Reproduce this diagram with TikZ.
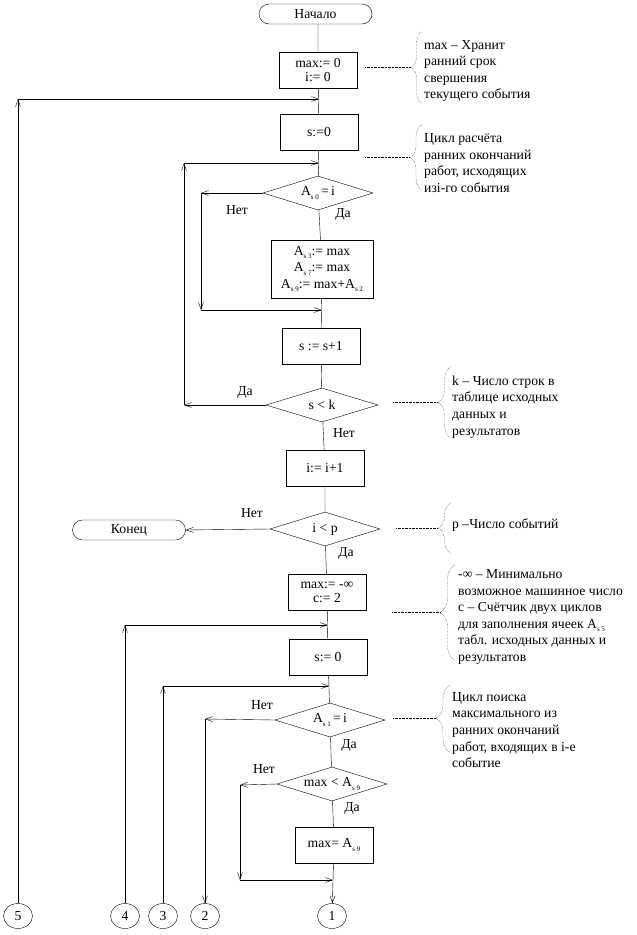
\documentclass[tikz,border=0pt]{standalone}
\usepackage{fontspec}
\setmainfont{Liberation Serif}
\usetikzlibrary{shapes.geometric,shapes.misc,arrows.meta,decorations.pathreplacing,positioning}
\newcommand{\ssub}[1]{\raisebox{-3.5pt}{\fontsize{7}{7}\selectfont #1}}

\begin{document}
\begin{tikzpicture}[x=1pt, y=-1pt, thin, >={Straight Barb[length=7pt,width=5pt]},
        font=\fontsize{13.7}{16.6}\selectfont,
        box/.style = {draw, rectangle, minimum width=78pt, minimum height=36pt, align=center, inner sep=1pt},
        term/.style = {draw, rounded rectangle, minimum width=115pt, minimum height=20pt, inner sep=1pt},
        cond/.style = {draw, diamond, aspect=3.3, minimum width=110pt, minimum height=34pt, inner sep=0pt},
        conn/.style = {draw, ellipse, minimum width=29pt, minimum height=25pt, inner sep=0pt},
        lbl/.style = {inner sep=0pt},
        note/.style = {align=left, inner sep=0pt, anchor=west},
        link/.style = {densely dotted},
        brc/.style = {densely dotted, decorate, decoration={brace, amplitude=#1}}]
            \useasboundingbox (0,0) rectangle (637,935);

            % main column
            \node[term] (start) at (315.5,14) {Начало};
            \node[box]  (b1)    at (318,70)  {max:= 0\\[-3pt]i:= 0};
            \node[box]  (b2)    at (319,132) {s:=0};
            \node[cond] (d1)    at (318,193) {A\ssub{s 0}\,=\,i};
            \node[box, minimum width=102pt, minimum height=58pt] (b3) at (322,269)
                {A\ssub{s 3}:= max\\[0pt]A\ssub{s 7}:= max\\[0pt]A\ssub{s 9}:= max+A\ssub{s 2}};
            \node[box]  (b4)    at (321,346) {s := s+1};
            \node[cond, minimum width=112pt] (d2) at (322,405) {s < k};
            \node[box]  (b5)    at (325,468) {i:= i+1};
            \node[cond] (d3)    at (325,529) {i < p};
            \node[term] (end)   at (129,530) {Конец};
            \node[box]  (b6)    at (327,592) {max:= -∞\\[-3pt]c:= 2};
            \node[box]  (b7)    at (328,657) {s:= 0};
            \node[cond] (d4)    at (330,720) {A\ssub{s 1}\,=\,i};
            \node[cond] (d5)    at (332,784) {max < A\ssub{s 9}};
            \node[box]  (b8)    at (334,845) {max= A\ssub{s 9}};

            % off-page connectors
            \node[conn] (c1) at (332,916) {1};
            \node[conn] (c2) at (205,916) {2};
            \node[conn] (c3) at (163,916) {3};
            \node[conn] (c4) at (125,916) {4};
            \node[conn] (c5) at (18,916)  {5};

            % branch labels
            \node[lbl] (n1) at (237,210) {Нет};
            \node[lbl] (y1) at (343,214) {Да};
            \node[lbl] (y2) at (245,392) {Да};
            \node[lbl] (n2) at (344,433) {Нет};
            \node[lbl] (n3) at (252,513) {Нет};
            \node[lbl] (y3) at (346,553) {Да};
            \node[lbl] (n4) at (262,705) {Нет};
            \node[lbl] (y4) at (349,745) {Да};
            \node[lbl] (n5) at (264,769) {Нет};
            \node[lbl] (y5) at (352,808) {Да};

            % bends and joins
            \coordinate (m1) at (319,99);   \coordinate (k5) at (18,99);
            \coordinate (m2) at (318.5,163); \coordinate (k2) at (184,163); \coordinate (k2b) at (184,405);
            \coordinate (k1) at (201,193);  \coordinate (k1b) at (201,310); \coordinate (m3) at (321.5,310);
            \coordinate (m4) at (327.5,625); \coordinate (k4) at (125,625);
            \coordinate (m6) at (329,686);  \coordinate (k3) at (163,686);
            \coordinate (k6) at (205,719);
            \coordinate (k7) at (240,785);  \coordinate (k7b) at (240,880); \coordinate (m7) at (333,880);

            \draw (start.south -| b1) -- (b1) -- (b2) -- (d1) -- (b3) -- (b4) -- (d2) -- (b5) -- (d3)
                -- (b6) -- (b7) -- (d4) -- (d5) -- (b8);
            \draw[->] (b8) -- (c1);

            \draw[->] (c5) -- (k5);
            \draw[->] (k5) -- (m1);
            \draw[->] (d1.west) -- (k1);
            \draw[->] (k1) -- (k1b);
            \draw[->] (k1b) -- (m3);
            \draw[->] (d2.west) -- (k2b);
            \draw[->] (k2b) -- (k2);
            \draw[->] (k2) -- (m2);
            \draw[->] (d3.west) -- (end.east);
            \draw[->] (c4) -- (k4);
            \draw[->] (k4) -- (m4);
            \draw[->] (c3) -- (k3);
            \draw[->] (k3) -- (m6);
            \draw[->] (d4.west) -- (k6);
            \draw[->] (k6) -- (c2);
            \draw[->] (d5.west) -- (k7);
            \draw[->] (k7) -- (k7b);
            \draw[->] (k7b) -- (m7);

            % comments
            \node[note] (t1) at (424,71)  {max – Хранит\\ранний срок\\свершения\\текущего события};
            \node[note] (t2) at (424,163) {Цикл расчёта\\ранних окончаний\\работ, исходящих\\изi-го события};
            \node[note] (t3) at (452,407) {k – Число строк в\\таблице исходных\\данных и\\результатов};
            \node[note] (t4) at (452,525) {p –Число событий};
            \node[note] (t5) at (458,617) {-∞ – Минимально\\возможное машинное число\\c – Счётчик двух циклов\\для заполнения ячеек A\ssub{s 5}\\табл. исходных данных и\\результатов};
            \node[note] (t6) at (452,730) {Цикл поиска\\максимального из\\ранних окончаний\\работ, входящих в i-е\\событие};

            \draw[brc=11pt] (422,103) -- (422,32);
            \draw[brc=12pt] (422,190) -- (422,125);
            \draw[brc=13pt] (451,438) -- (451,367);
            \draw[brc=13pt] (451,553) -- (451,503);
            \draw[brc=15pt] (455,660) -- (455,565);
            \draw[brc=14pt] (450,752) -- (450,685);

            \coordinate (p1) at (411,67.5);
            \coordinate (p2) at (410,157.5);
            \coordinate (p3) at (438,402.5);
            \coordinate (p4) at (438,528);
            \coordinate (p5) at (440,612.5);
            \coordinate (p6) at (436,718.5);
            \draw[link] ([xshift=8pt]b1.east |- p1) -- (p1);
            \draw[link] ([xshift=7pt]b2.east |- p2) -- (p2);
            \draw[link] ([xshift=15pt]d2.east |- p3) -- (p3);
            \draw[link] ([xshift=16pt]d3.east |- p4) -- (p4);
            \draw[link] ([xshift=26pt]b6.east |- p5) -- (p5);
            \draw[link] ([xshift=8pt]d4.east |- p6) -- (p6);
        \end{tikzpicture}
\end{document}
